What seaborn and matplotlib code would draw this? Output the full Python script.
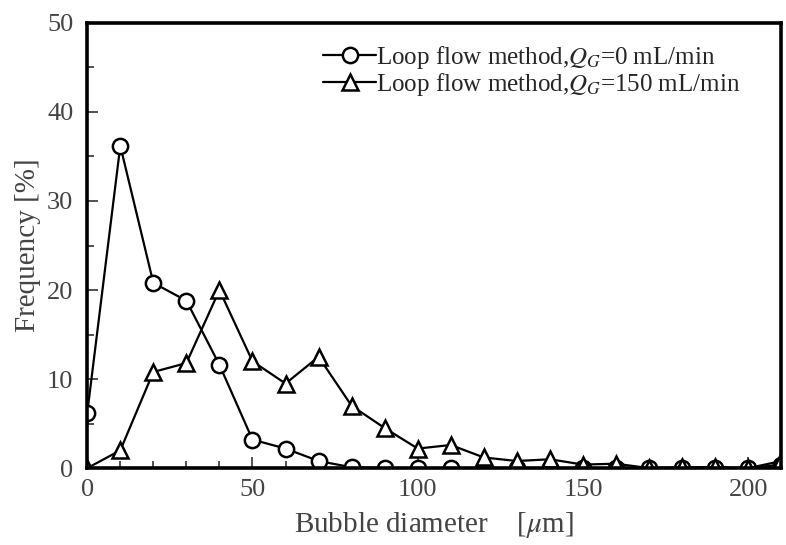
import numpy as np
import pandas as pd
import seaborn as sns
import matplotlib
matplotlib.use('Agg')
import matplotlib.pyplot as plt
from matplotlib.ticker import MultipleLocator

diameter = [0, 10, 20, 30, 40, 50, 60, 70, 80, 90, 100, 110, 120, 130, 140, 150,
            160, 170, 180, 190, 200, 210]
freq_q0 = [6.2, 36.2, 20.8, 18.8, 11.6, 3.2, 2.2, 0.8, 0.1, 0, 0, 0, 0, 0, 0, 0,
           0, 0, 0, 0, 0, 0.4]
freq_q150 = [0, 2.0, 10.8, 11.8, 20.0, 12.0, 9.5, 12.5, 7.0, 4.5, 2.2, 2.6, 1.2, 0.8,
             1.0, 0.4, 0.5, 0, 0.1, 0.1, 0, 0.8]
labels = ['Loop flow method,$Q_G$=0 mL/min', 'Loop flow method,$Q_G$=150 mL/min']

df = pd.DataFrame({'d': diameter * 2,
                   'f': freq_q0 + freq_q150,
                   'series': [labels[0]] * len(diameter) + [labels[1]] * len(diameter)})

sns.set_style('ticks')
plt.rcParams['font.family'] = ['Liberation Serif', 'DejaVu Serif']
plt.rcParams['mathtext.fontset'] = 'stix'

fig = plt.figure(figsize=(7.86, 5.45), dpi=100)
ax = fig.add_axes([0.111, 0.141, 0.883, 0.817])

for lab, mk in zip(labels, ['o', '^']):
    sub = df[df['series'] == lab]
    sns.lineplot(data=sub, x='d', y='f', ax=ax, color='black', lw=1.6,
                 marker=mk, markersize=11, markerfacecolor='white',
                 markeredgecolor='black', markeredgewidth=1.8, label=lab)

ax.set_xlim(0, 210)
ax.set_ylim(0, 50)
ax.xaxis.set_major_locator(MultipleLocator(50))
ax.xaxis.set_minor_locator(MultipleLocator(10))
ax.yaxis.set_major_locator(MultipleLocator(10))
ax.yaxis.set_minor_locator(MultipleLocator(5))
ax.tick_params(which='both', direction='in', top=False, right=False, labelsize=19,
               colors='#333333', labelcolor='#444444')
ax.tick_params(which='major', length=8, width=1.2)
ax.tick_params(which='minor', length=5, width=1.2)
ax.tick_params(axis='x', which='major', pad=8)
ax.tick_params(axis='y', which='major', pad=10)
for s in ax.spines.values():
    s.set_linewidth(2.6)
    s.set_color('black')

ax.set_xlabel('Bubble diameter    [$\\mu$m]', fontsize=21, color='#444444', labelpad=6)
ax.set_ylabel('Frequency [%]', fontsize=21, color='#444444', labelpad=4)

ax.legend(loc='upper right', frameon=False, fontsize=18, handlelength=2.1,
          handletextpad=0.0, borderaxespad=0.0, labelspacing=0.0,
          bbox_to_anchor=(0.955, 0.975))

fig.savefig('out.png', dpi=100)
